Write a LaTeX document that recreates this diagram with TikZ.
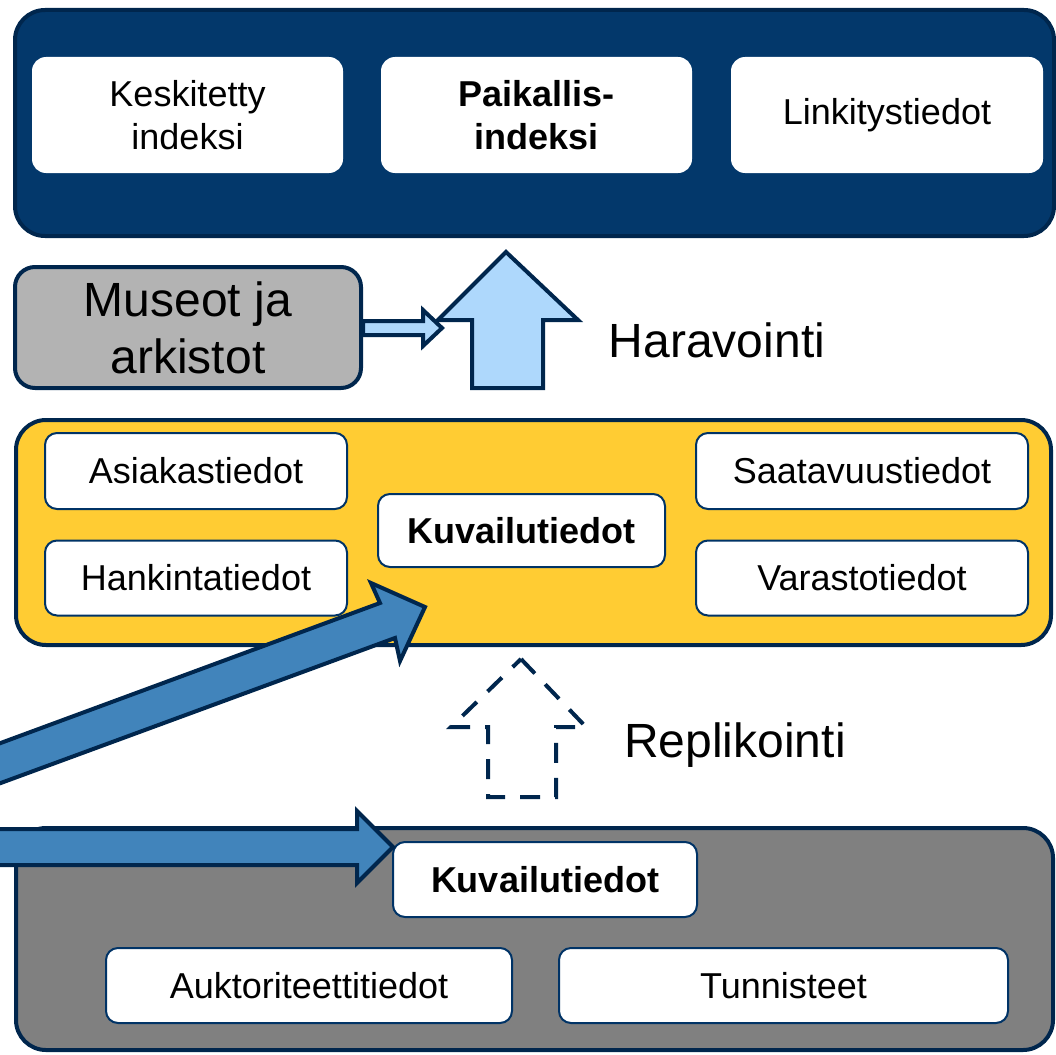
\documentclass[tikz,border=0pt]{standalone}
\usepackage{fontspec}
\setmainfont{Liberation Sans}

\definecolor{navyfill}{RGB}{3,56,107}
\definecolor{navyline}{RGB}{0,38,77}
\definecolor{cardline}{RGB}{0,51,102}
\definecolor{sunyellow}{RGB}{255,204,51}
\definecolor{lightgray}{RGB}{179,179,179}
\definecolor{darkgray}{RGB}{128,128,128}
\definecolor{skyblue}{RGB}{174,216,252}
\definecolor{steelblue}{RGB}{65,132,187}

\tikzset{
  panel/.style={draw=navyline, line width=4pt, rounded corners=30pt},
  card/.style={rectangle, fill=white, rounded corners=14pt, align=center,
    font=\fontsize{36}{43}\selectfont},
  smallcard/.style={card, draw=cardline, line width=2pt, rounded corners=12pt},
  bigtext/.style={align=center, font=\fontsize{48}{57}\selectfont},
  blockarrow/.style={draw=navyline, line width=4pt, line join=miter}
}

\begin{document}
\begin{tikzpicture}[x=1pt, y=-1pt]
\useasboundingbox (0,0) rectangle (1056,1054);

% Define boxes
\node[panel, fill=navyfill, minimum width=1039pt, minimum height=226pt] (index) at (534.5,123) {};
\node[card, minimum width=311pt, minimum height=116pt] (central) at (187.5,115) {Keskitetty\\indeksi};
\node[card, minimum width=311pt, minimum height=116pt, font=\fontsize{36}{43}\selectfont\bfseries] (local) at (536.5,115) {Paikallis-\\indeksi};
\node[card, minimum width=312pt, minimum height=116pt] (links) at (887,115) {Linkitystiedot};

\node[panel, fill=lightgray, rounded corners=20pt, minimum width=346pt, minimum height=121pt, bigtext] (museo) at (188,327.5) {Museot ja\\arkistot};

\node[panel, fill=sunyellow, minimum width=1035pt, minimum height=225pt] (library) at (533.5,532.5) {};
\node[smallcard, minimum width=302pt, minimum height=76pt] (customer) at (196,471) {Asiakastiedot};
\node[smallcard, minimum width=302pt, minimum height=75pt] (acquis) at (196,578) {Hankintatiedot};
\node[smallcard, minimum width=287pt, minimum height=73pt, font=\fontsize{36}{43}\selectfont\bfseries] (descr) at (521.5,530.5) {Kuvailutiedot};
\node[smallcard, minimum width=332pt, minimum height=76pt] (avail) at (862,471) {Saatavuustiedot};
\node[smallcard, minimum width=332pt, minimum height=75pt] (stock) at (862,578) {Varastotiedot};

\node[panel, fill=darkgray, minimum width=1037pt, minimum height=222pt] (union) at (534.5,939) {};
\node[smallcard, minimum width=304pt, minimum height=75pt, font=\fontsize{36}{43}\selectfont\bfseries] (udescr) at (545,879.5) {Kuvailutiedot};
\node[smallcard, minimum width=406pt, minimum height=75pt] (authority) at (309,985.5) {Auktoriteettitiedot};
\node[smallcard, minimum width=449pt, minimum height=75pt] (ids) at (783.5,985.5) {Tunnisteet};

\node[bigtext] (harvest) at (717,340) {Haravointi};
\node[bigtext] (replica) at (735,745) {Replikointi};

% Draw arrows
\coordinate (harvtip) at (506,252);
\draw[blockarrow, fill=skyblue] (harvtip) -- ++(72,68) -- ++(-35,0) -- ++(0,68) -- ++(-71,0) -- ++(0,-68) -- ++(-34,0) -- cycle;

\draw[blockarrow, fill=skyblue] (museo.east) ++(0,-6.5) -- ++(60,0) -- ++(0,-11) -- ++(19,18) -- ++(-19,18) -- ++(0,-11) -- ++(-60,0) -- cycle;

\coordinate (reptip) at (521,659);
\draw[blockarrow, dash pattern=on 20pt off 15pt] (reptip) -- ++(65,68) -- ++(-30,0) -- ++(0,70) -- ++(-68,0) -- ++(0,-70) -- ++(-37,0) -- cycle;

\coordinate (acqstart) at (-40,778);
\coordinate (acqtip) at (425,607);
\draw[blockarrow, fill=steelblue] (-40,758) -- (380,603) -- (371,583) -- (acqtip) -- (400,661) -- (395,638) -- (-40,798) -- cycle;

\coordinate (catstart) at (-40,847);
\coordinate (cattip) at (393,847);
\draw[blockarrow, fill=steelblue] (-40,829) -- (357,829) -- (357,811) -- (cattip) -- (357,883) -- (357,865) -- (-40,865) -- cycle;

\end{tikzpicture}
\end{document}
